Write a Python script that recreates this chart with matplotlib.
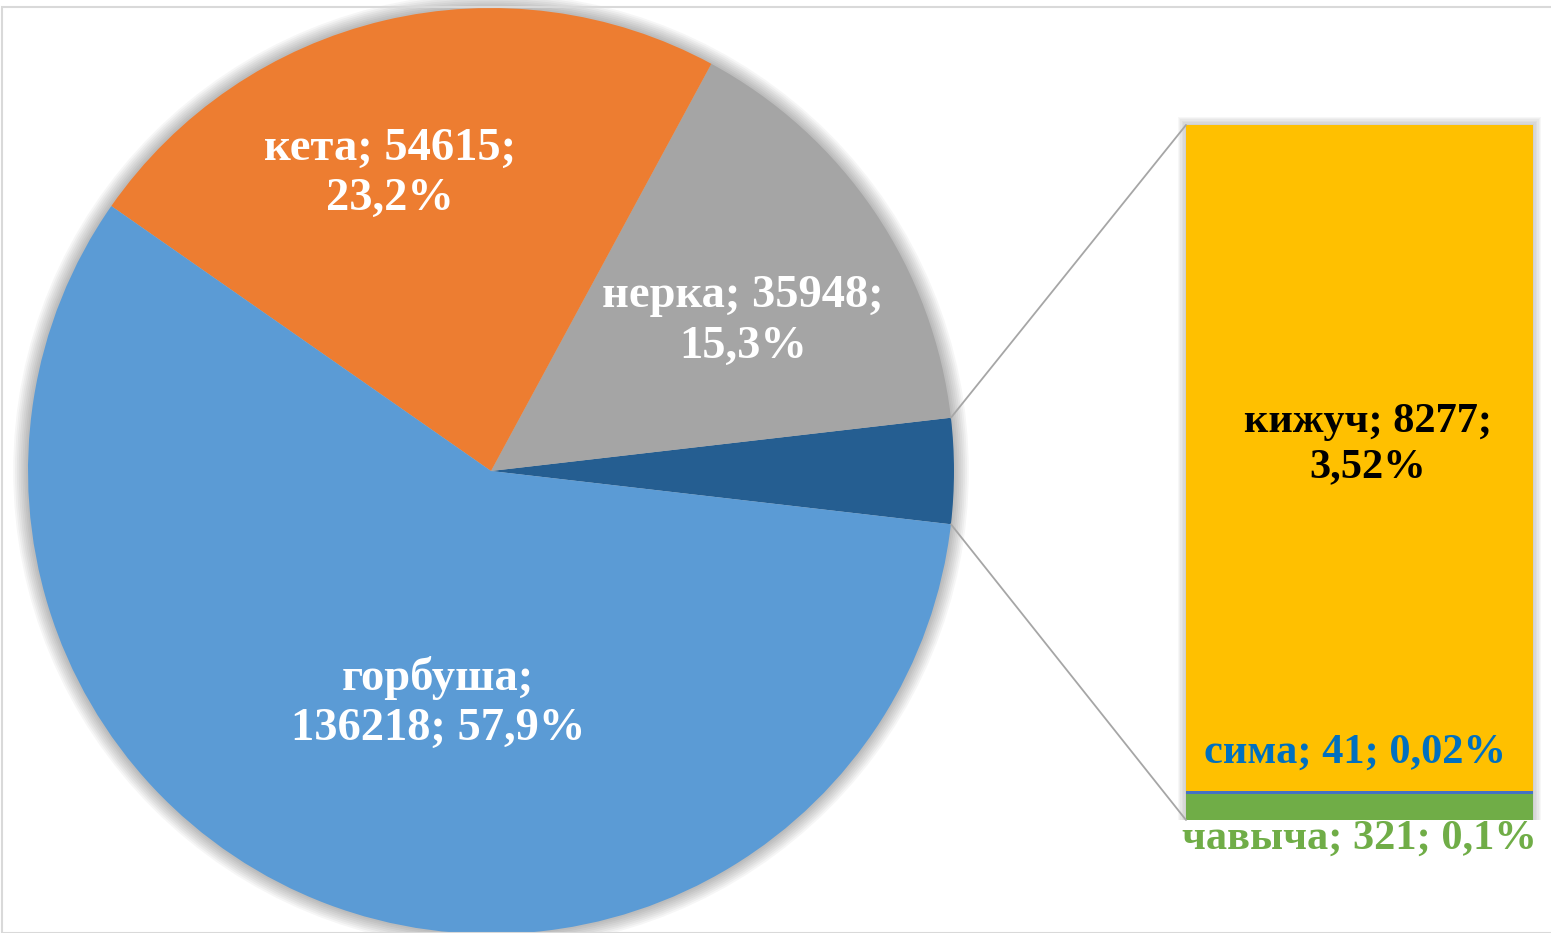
import numpy as np
import matplotlib
matplotlib.use("Agg")
import matplotlib.pyplot as plt
import matplotlib.transforms as mtransforms
from matplotlib.patches import ConnectionPatch, Rectangle, Circle

plt.rcParams['font.family'] = ['Liberation Serif', 'DejaVu Serif']

# ---- data ----
pie_names = ["горбуша", "кета", "нерка"]
pie_values = [136218, 54615, 35948]
pie_decimals = [1, 1, 1]
bar_names = ["чавыча", "сима", "кижуч"]
bar_values = [321, 41, 8277]
bar_decimals = [1, 2, 2]

pie_colors = ["#5B9BD5", "#ED7D31", "#A5A5A5"]
other_color = "#255E91"
bar_colors = ["#70AD47", "#4472C4", "#FFC000"]
bar_text_colors = ["#70AD47", "#0070C0", "#000000"]

other_total = sum(bar_values)
total = sum(pie_values) + other_total

def pct(v, d):
    return f"{100.0 * v / total:.{d}f}%".replace(".", ",")

W, H = 1551, 933
fig = plt.figure(figsize=(W / 100, H / 100), dpi=100)
fig.patch.set_facecolor("white")

# chart frame
fig.add_artist(Rectangle((2 / W, 0), 1.2, (H - 7) / H, transform=fig.transFigure,
                         fill=False, edgecolor="#D9D9D9", lw=1.5))

# ---- pie ----
cx, cy, R = 491, 471, 463
ax = fig.add_axes([(cx - R) / W, (H - cy - R) / H, 2 * R / W, 2 * R / H])
ax.set_xlim(-1, 1)
ax.set_ylim(-1, 1)
ax.axis("off")

# soft shadow
for i in range(8):
    ax.add_patch(Circle((0.0, 0.0), 1.0 + 0.004 * (i + 1), color="black",
                        alpha=0.035, lw=0, zorder=0, clip_on=False))

vals = [other_total, pie_values[2], pie_values[1], pie_values[0]]
cols = [other_color, pie_colors[2], pie_colors[1], pie_colors[0]]
start = -0.5 * other_total / total * 360.0
wedges, _ = ax.pie(vals, colors=cols, startangle=start, counterclock=True,
                   radius=1.0, center=(0, 0),
                   wedgeprops=dict(linewidth=0, zorder=2))
for w in wedges:
    w.set_clip_on(False)
ax.set_xlim(-1, 1)
ax.set_ylim(-1, 1)

lbl_kw = dict(ha="center", va="center", color="white", fontsize=33.5,
              fontweight="bold", linespacing=1.25, zorder=5)
ax.text(-0.218, 0.642, f"{pie_names[1]}; {pie_values[1]};\n{pct(pie_values[1], pie_decimals[1])}", **lbl_kw)
ax.text(0.544, 0.323, f"{pie_names[2]}; {pie_values[2]};\n{pct(pie_values[2], pie_decimals[2])}", **lbl_kw)
ax.text(-0.114, -0.501, f"{pie_names[0]};\n{pie_values[0]}; {pct(pie_values[0], pie_decimals[0])}", **lbl_kw)

# ---- bar ----
bx0, bx1, by0, by1 = 1186, 1533, 125, 820
ax2 = fig.add_axes([bx0 / W, (H - by1) / H, (bx1 - bx0) / W, (by1 - by0) / H])
# shadow
for i in range(6):
    d = 0.004 * (i + 1)
    ax2.add_patch(Rectangle((-0.5 - d, -d * 10), 1 + 2 * d, other_total * (1 + d * 0.5) + d * 10,
                            color="black", alpha=0.03, lw=0, zorder=0, clip_on=False))
bottom = 0
for v, c in zip(bar_values, bar_colors):
    ax2.bar(0, v, bottom=bottom, width=1.0, color=c, linewidth=0, zorder=2)
    bottom += v
ax2.set_xlim(-0.5, 0.5)
ax2.set_ylim(0, other_total)
ax2.axis("off")

fs = 30.5
# кижуч
ax2.text(0.025, bar_values[0] + bar_values[1] + bar_values[2] * 0.52,
         f"{bar_names[2]}; {bar_values[2]};\n{pct(bar_values[2], bar_decimals[2])}",
         ha="center", va="center", color=bar_text_colors[2], fontsize=fs,
         fontweight="bold", linespacing=1.25, zorder=5)
# сима (just above the stack)
ax2.text(-0.013, 0, f"{bar_names[1]}; {bar_values[1]}; {pct(bar_values[1], bar_decimals[1])}",
         ha="center", va="center", color=bar_text_colors[1], fontsize=fs,
         fontweight="bold", zorder=5,
         transform=ax2.transData + mtransforms.ScaledTranslation(0, (820 - 753) / 100, fig.dpi_scale_trans))
# чавыча (below the bar)
ax2.text(0.0, 0, f"{bar_names[0]}; {bar_values[0]}; {pct(bar_values[0], bar_decimals[0])}",
         ha="center", va="center", color=bar_text_colors[0], fontsize=fs,
         fontweight="bold", zorder=5,
         transform=ax2.transData + mtransforms.ScaledTranslation(0, -(839 - 820) / 100, fig.dpi_scale_trans))

# ---- connectors ----
half = np.deg2rad(0.5 * other_total / total * 360.0)
for sgn, yb in [(1, other_total), (-1, 0)]:
    con = ConnectionPatch(xyA=(np.cos(half), sgn * np.sin(half)), coordsA=ax.transData,
                          xyB=(-0.5, yb), coordsB=ax2.transData,
                          color="#A6A6A6", lw=1.3, zorder=1)
    fig.add_artist(con)

fig.savefig("out.png", dpi=100, facecolor="white")
